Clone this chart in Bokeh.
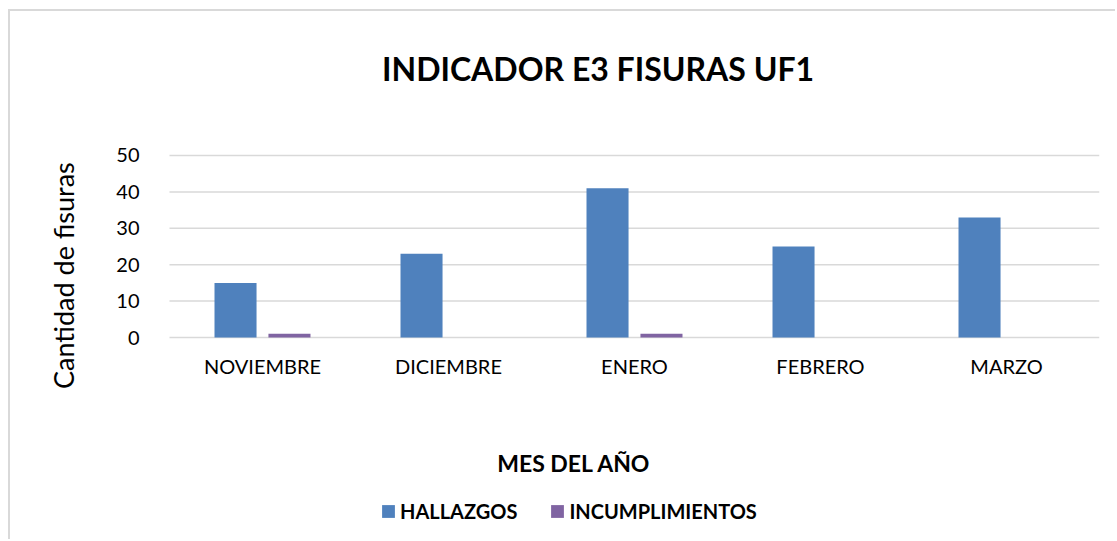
import math
from bokeh.plotting import figure
from bokeh.models import Legend, LegendItem, Range1d, Label, FixedTicker
from bokeh.embed import file_html
from bokeh.resources import INLINE

months = ["NOVIEMBRE", "DICIEMBRE", "ENERO", "FEBRERO", "MARZO"]
hallazgos = [15, 23, 41, 25, 33]
incumplimientos = [1, 0, 1, 0, 0]
y_ticks = [0, 10, 20, 30, 40, 50]

FONT = "Lato"
BLUE = "#4f81bd"
PURPLE = "#8064a2"
GRID = "#d9d9d9"

# month i occupies the unit interval [i, i + 1] on the x scale
centers = [i + 0.5 for i in range(len(months))]
BAR_W = 0.226
SHIFT = 0.145

p = figure(width=1107, height=530, x_range=Range1d(-0.6935, 5.0),
           y_range=Range1d(-56.04, 78.57), output_backend="svg",
           toolbar_location=None, x_axis_location="above",
           min_border_left=30, min_border_right=18, min_border_top=40,
           min_border_bottom=0)
p.margin = (9, 0, 0, 8)
p.styles = {"border-top": "2px solid #d9d9d9", "border-left": "2px solid #d9d9d9"}
p.outline_line_color = None
p.background_fill_color = "white"
p.border_fill_color = "white"
p.xgrid.visible = False
p.ygrid.visible = False

# horizontal gridlines across the month slots
p.segment(x0=0, x1=len(months), y0=y_ticks, y1=y_ticks,
          line_color=GRID, line_width=1.5)

r1 = p.vbar(x=[c - SHIFT for c in centers], top=hallazgos, width=BAR_W,
            fill_color=BLUE, line_color=None)
r2 = p.vbar(x=[c + SHIFT for c in centers], top=incumplimientos, width=BAR_W,
            fill_color=PURPLE, line_color=None)

xa = p.xaxis[0]
xa.ticker = FixedTicker(ticks=centers)
xa.major_label_overrides = {c: m for c, m in zip(centers, months)}
xa.fixed_location = -12.9
xa.major_label_standoff = 0

ya = p.yaxis[0]
ya.ticker = FixedTicker(ticks=y_ticks)
ya.fixed_location = -0.129
ya.major_label_standoff = 0

for ax in (xa, ya):
    ax.axis_line_color = None
    ax.major_tick_line_color = None
    ax.minor_tick_line_color = None
    ax.major_label_text_font = FONT
    ax.major_label_text_font_size = "20px"
    ax.major_label_text_color = "#000000"

p.add_layout(Label(x=2.304, y=73.9, text="INDICADOR E3 FISURAS UF1",
                   text_font=FONT, text_font_style="bold",
                   text_font_size="32px", text_align="center",
                   text_baseline="middle", text_color="#000000"))
p.add_layout(Label(x=-0.570, y=17.0, text="Cantidad de fisuras",
                   angle=math.pi / 2, text_font=FONT, text_font_size="27px",
                   text_align="center", text_baseline="middle",
                   text_color="#000000"))
p.add_layout(Label(x=2.175, y=-34.6, text="MES DEL AÑO",
                   text_font=FONT, text_font_style="bold",
                   text_font_size="23px", text_align="center",
                   text_baseline="middle", text_color="#000000"))

legend = Legend(items=[LegendItem(label="HALLAZGOS", renderers=[r1]),
                       LegendItem(label="INCUMPLIMIENTOS", renderers=[r2])],
                orientation="horizontal", location=(340, 18),
                glyph_width=16, glyph_height=16, label_standoff=4, spacing=32,
                label_text_font=FONT, label_text_font_style="bold",
                label_text_font_size="20px", label_text_color="#000000",
                border_line_color=None,
                background_fill_alpha=0, padding=0, margin=0)
p.add_layout(legend, "center")

open("out.html", "w").write(file_html(p, INLINE))
